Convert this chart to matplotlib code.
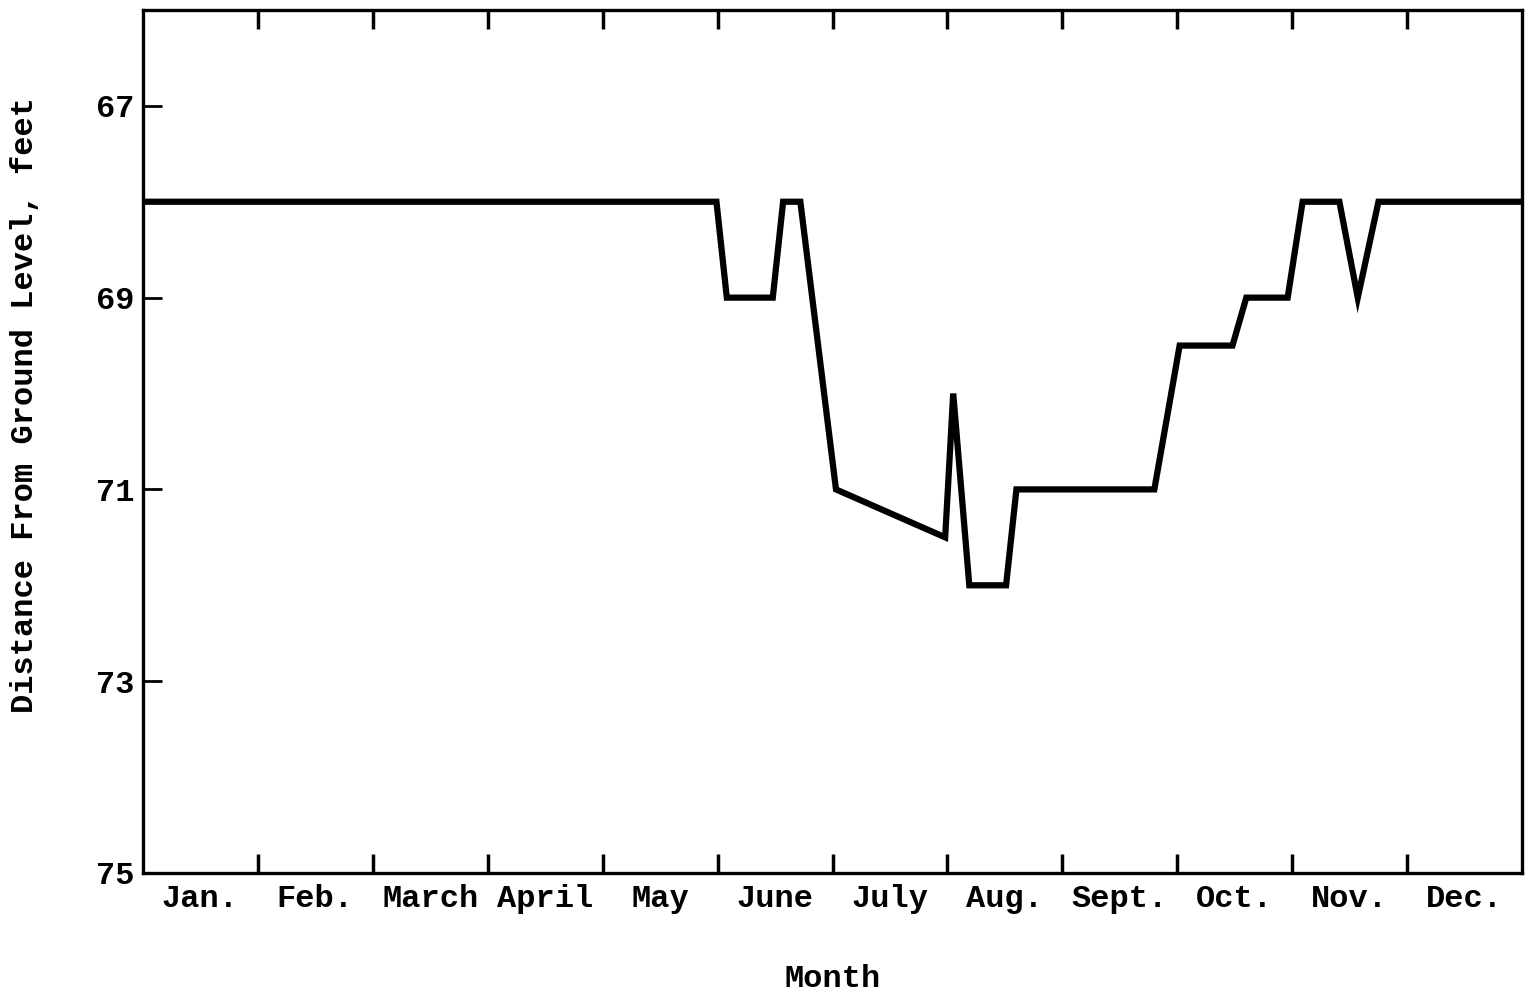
import numpy as np
import matplotlib.pyplot as plt

# Depth to water below ground level over one year (months from 1 Jan.)
month_pos = [0.0, 4.99, 5.08, 5.48, 5.57, 5.72, 6.03, 6.98, 7.05, 7.19, 7.51,
             7.60, 8.80, 9.02, 9.48, 9.60, 9.96, 10.09, 10.41, 10.57, 10.75, 12.0]
depth_ft = [68.0, 68.0, 69.0, 69.0, 68.0, 68.0, 71.0, 71.5, 70.0, 72.0, 72.0,
            71.0, 71.0, 69.5, 69.5, 69.0, 69.0, 68.0, 68.0, 69.0, 68.0, 68.0]

month_names = ['Jan.', 'Feb.', 'March', 'April', 'May', 'June', 'July',
               'Aug.', 'Sept.', 'Oct.', 'Nov.', 'Dec.']
depth_ticks = [67, 69, 71, 73, 75]

plt.rcParams['font.family'] = ['Liberation Mono', 'DejaVu Sans Mono']
plt.rcParams['font.size'] = 23
plt.rcParams['font.weight'] = 'bold'
plt.rcParams['axes.labelweight'] = 'bold'

fig = plt.figure(figsize=(15.29, 9.98), dpi=100)
ax = fig.add_axes([0.0935, 0.1253, 0.902, 0.8647])

ax.plot(month_pos, depth_ft, color='black', lw=4.5, solid_joinstyle='miter')

ax.set_xlim(0, 12)
ax.set_ylim(75, 66)

# month boundaries as inward ticks, names centred between them
ax.set_xticks(np.arange(1, 12))
ax.set_xticklabels([])
ax.set_xticks(np.arange(12) + 0.5, minor=True)
ax.set_xticklabels(month_names, minor=True)
ax.tick_params(axis='x', which='major', direction='in', length=14, width=2.5,
               top=True, bottom=True)
ax.tick_params(axis='x', which='minor', length=0, pad=8)

ax.set_yticks(depth_ticks)
ax.set_yticklabels([str(t) for t in depth_ticks])
ax.tick_params(axis='y', direction='in', length=14, width=2, pad=6)

for s in ax.spines.values():
    s.set_linewidth(2.4)

ax.set_ylabel('Distance From Ground Level, feet')
ax.yaxis.set_label_coords(-0.0745, 0.542)
ax.set_xlabel('Month', labelpad=36)

fig.savefig('out.png', dpi=100, facecolor='white')
